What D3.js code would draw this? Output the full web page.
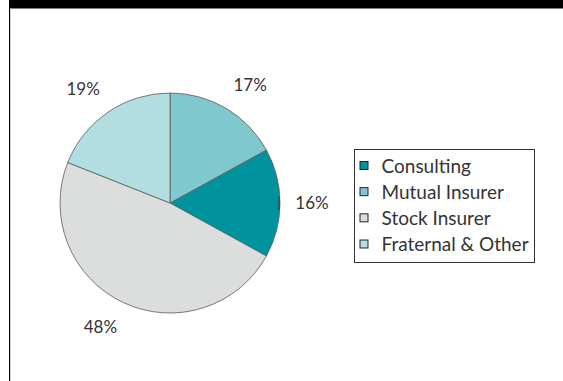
<!DOCTYPE html>
<html>
<head>
<meta charset="utf-8">
<script src="https://cdn.jsdelivr.net/npm/d3@7"></script>
<style>
  html, body { margin: 0; padding: 0; background: #fff; }
  svg { display: block; }
  text { font-family: Lato, "Open Sans", sans-serif; fill: #333; }
</style>
</head>
<body>
<svg id="chart" width="563" height="381"></svg>
<script>
// Legend order
const categories = ["Consulting", "Mutual Insurer", "Stock Insurer", "Fraternal & Other"];
const shares = [16, 17, 48, 19];
const colors = ["#00939E", "#7FC8CE", "#DCDDDD", "#B2DEE2"];
// Order in which the slices run clockwise from 12 o'clock
const sliceOrder = ["Mutual Insurer", "Consulting", "Stock Insurer", "Fraternal & Other"];

const W = 563, H = 381;
const svg = d3.select("#chart");

// Frame: dark header strip and left rule
svg.append("rect").attr("x", 9).attr("y", 0).attr("width", W - 9).attr("height", 8.5).attr("fill", "#000");
svg.append("line").attr("x1", 9.5).attr("x2", 9.5).attr("y1", 0).attr("y2", H).attr("stroke", "#000").attr("stroke-width", 1);
svg.append("line").attr("x1", 10.5).attr("x2", 10.5).attr("y1", 8.5).attr("y2", H).attr("stroke", "#d4d4d4").attr("stroke-width", 1);

const data = categories.map((c, i) => ({ name: c, value: shares[i], color: colors[i] }));

const cx = 170, cy = 203, r = 110;

const pie = d3.pie()
  .value(d => d.value)
  .sort((a, b) => sliceOrder.indexOf(a.name) - sliceOrder.indexOf(b.name));
const arcs = pie(data);
const arc = d3.arc().innerRadius(0).outerRadius(r);

const g = svg.append("g").attr("transform", `translate(${cx},${cy})`);

g.selectAll("path.slice")
  .data(arcs)
  .join("path")
  .attr("class", "slice")
  .attr("d", arc)
  .attr("fill", d => d.data.color)
  .attr("stroke", "#5a5a5a")
  .attr("stroke-width", 0.8)
  .attr("stroke-linejoin", "round");

// Percentage labels outside the pie: anchor point just past the rim,
// then shifted by half the label box away from the pie
const mid = d => (d.startAngle + d.endAngle) / 2;
const sgn = v => (Math.abs(v) < 1e-6 ? 0 : Math.sign(v));
const labelPos = d => {
  const s = Math.sin(mid(d)), c = Math.cos(mid(d));
  return [126 * s + 16 * sgn(s), -(130 * c + 6.5 * sgn(c))];
};
g.selectAll("text.pct")
  .data(arcs)
  .join("text")
  .attr("class", "pct")
  .attr("x", d => labelPos(d)[0])
  .attr("y", d => labelPos(d)[1])
  .attr("text-anchor", "middle")
  .attr("dy", "0.36em")
  .attr("font-size", 17)
  .text(d => d.data.value + "%");

// Short leader tick on the rim for the Consulting label
const consult = arcs.find(d => d.data.name === "Consulting");
const tx = (r - 1) * Math.sin(mid(consult)), ty = -(r - 1) * Math.cos(mid(consult));
g.append("line")
  .attr("x1", tx).attr("x2", tx)
  .attr("y1", ty - 7).attr("y2", ty + 7)
  .attr("stroke", "#333").attr("stroke-width", 1);

// Legend
const lg = svg.append("g").attr("transform", "translate(354.5,149.5)");
lg.append("rect").attr("width", 180).attr("height", 113)
  .attr("fill", "#fff").attr("stroke", "#333").attr("stroke-width", 1);
const rowY = d3.scalePoint().domain(categories).range([16.5, 95]);
const rows = lg.selectAll("g.row").data(data).join("g")
  .attr("class", "row")
  .attr("transform", d => `translate(0,${rowY(d.name)})`);
rows.append("rect")
  .attr("x", 5.5).attr("y", -4.5).attr("width", 8).attr("height", 8)
  .attr("fill", d => d.color).attr("stroke", "#222").attr("stroke-width", 1);
rows.append("text")
  .attr("x", 27).attr("dy", "0.36em")
  .attr("font-size", 19)
  .text(d => d.name);
</script>
</body>
</html>
